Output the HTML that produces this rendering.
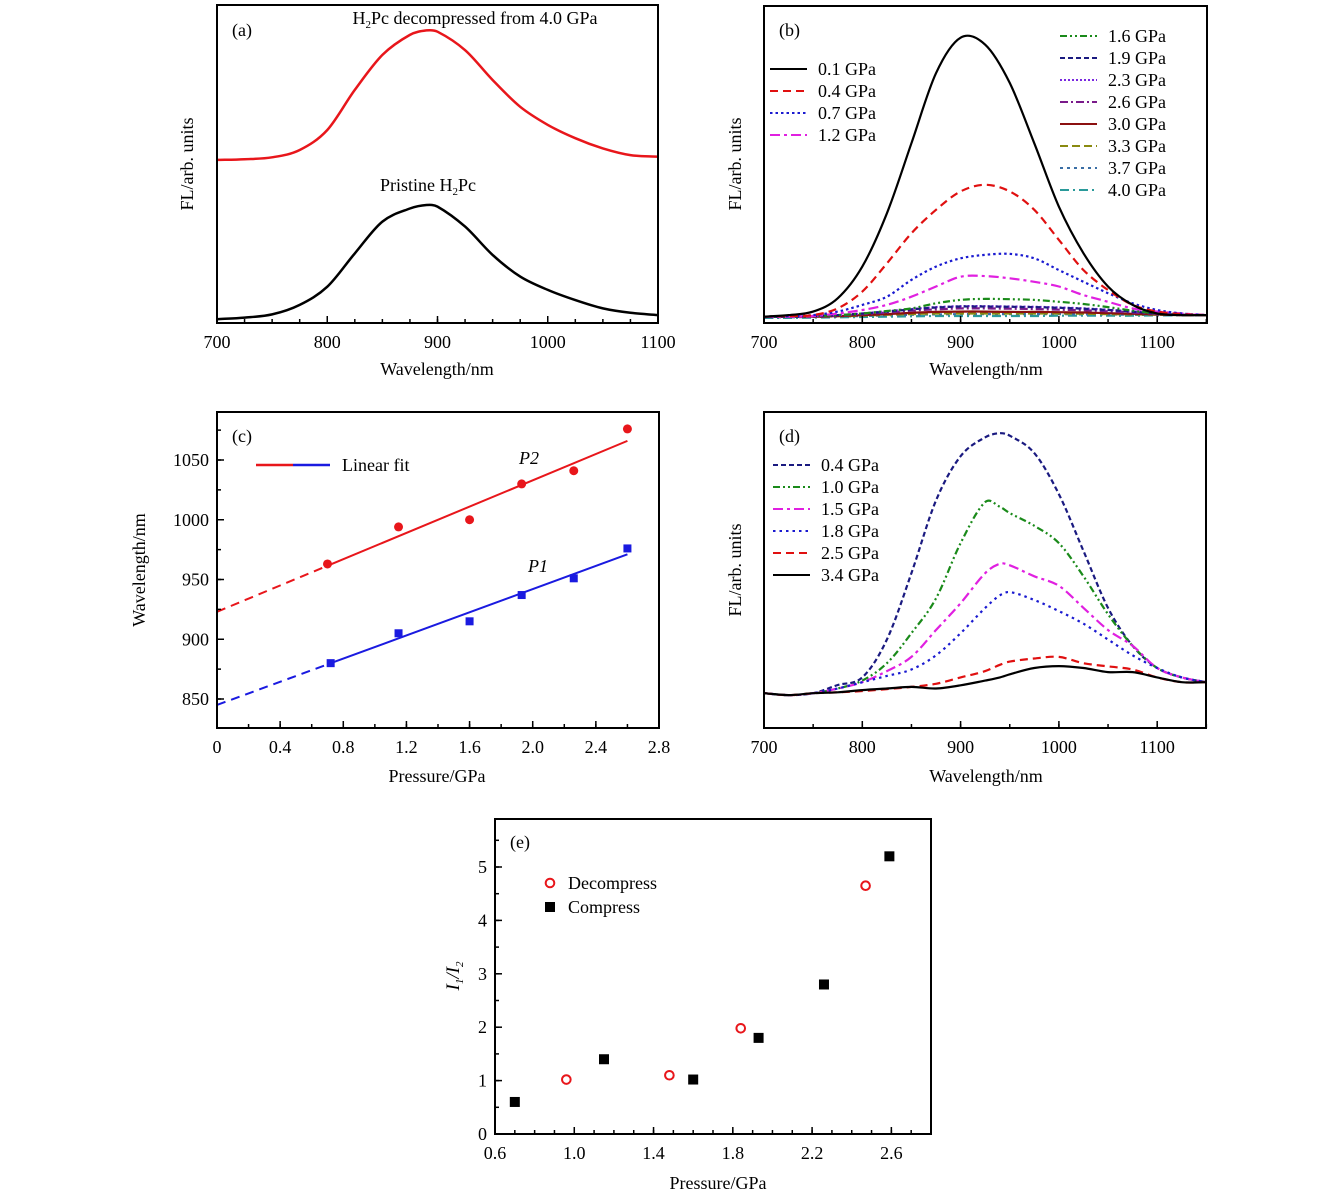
<!DOCTYPE html>
<html><head><meta charset="utf-8"><style>
body{margin:0;background:#fff;}
svg{display:block;font-family:"Liberation Serif",serif;}
</style></head><body>
<svg id="fig" width="1339" height="1197" viewBox="0 0 1339 1197"></svg>
<script>
// ---------- data ----------
const wlA=[700,725,750,775,800,825,850,875,890,900,925,950,975,1000,1025,1050,1075,1100];
const aDecomp=[51.3,51.5,52.1,54.4,60.7,73.3,84.3,90.6,92,91.6,85.8,76.4,68,62.3,58.1,54.9,52.8,52.3];
const aPristine=[1.2,1.7,2.7,5.7,11.4,21.9,31.9,36,37.1,36.6,30.3,21.4,14.6,10.4,7.2,4.6,3.2,2.5];

const wlB=[700,725,750,775,800,825,850,875,900,925,950,975,1000,1025,1050,1075,1100,1125,1150];
const b01=[2,2.5,3.6,7.8,17.8,34.6,56.7,78.8,90,87.8,75.7,56.7,36.7,22,11.5,5.7,3,2.5,2.5];
const b04=[2,2.2,2.5,4.6,9.9,18.8,28.3,35.7,41.5,43.6,41.5,35.7,26.2,16.7,10.4,5.7,3.6,2.8,2.5];
const b07=[2,2.2,2.5,3.6,5.7,8.3,13.6,17.8,20.4,21.5,21.8,20.4,16.7,13,9.4,6.2,4.1,3,2.5];
const b12=[2,2,2.2,3,4.1,5.7,8.3,11.5,14.6,14.8,14.1,13,11.5,8.8,6.7,4.6,3.6,3,2.5];
const b16=[2,2,2.2,2.5,3,3.8,4.6,6.2,7.3,7.6,7.5,7.3,6.7,6,5,3.9,3,2.6,2.5];
const b19=[2,2,2.2,2.5,3,3.6,4.3,4.9,5.2,5.2,5.1,5,4.8,4.5,4.1,3.6,3,2.6,2.5];
const b23=[2,2,2.2,2.5,3,3.7,4.4,5,5.3,5.3,5.2,5.1,4.9,4.6,4.2,3.6,3,2.6,2.5];
const b26=[2,2,2.1,2.4,2.8,3.3,3.9,4.3,4.6,4.6,4.5,4.4,4.2,4,3.7,3.3,2.9,2.6,2.5];
const b30=[2,2,2,2.2,2.5,2.8,3.2,3.5,3.6,3.6,3.5,3.5,3.4,3.3,3.1,2.9,2.7,2.5,2.5];
const b33=[2,2,2,2.1,2.3,2.6,2.8,3,3,3,3,3,3,2.9,2.8,2.7,2.6,2.5,2.5];
const b37=[1.8,1.8,1.9,2,2.2,2.4,2.6,2.7,2.8,2.8,2.8,2.8,2.8,2.7,2.7,2.6,2.5,2.5,2.5];
const b40=[1.6,1.6,1.7,1.8,1.9,2,2.1,2.2,2.2,2.2,2.2,2.2,2.3,2.3,2.3,2.3,2.4,2.4,2.4];

const wlD=[700,725,750,775,800,825,850,875,900,925,940,950,975,1000,1025,1050,1075,1100,1125,1150];
const d04=[11,10.4,11,13.6,16,28,49,72,86,92,93.3,92.5,87,74,56,38,26,19,16,14.5];
const d10=[11,10.4,11,12.5,15,20.5,30,41,58.5,71.5,70,68,64,58.5,48,36,26,19,16,14.5];
const d15=[11,10.4,11,12.5,14.5,18,22.5,31,39.5,49,52,51.5,48,45,38,31,26,19,16,14.5];
const d18=[11,10.4,11,12.5,14.5,16.5,18.5,23,30,38,42,43,40.5,37,33,28,23,19,16,14.5];
const d25=[11,10.4,11,11.3,11.7,12.3,13,14,16,18,20,21,22,22.5,20.5,19.5,18.5,16,14.5,14.5];
const d34=[11,10.4,11,11.3,12,12.5,13,12.5,13.5,15,16,17,19,19.6,19,17.7,17.7,16,14.5,14.5];

const cP2x=[0.7,1.15,1.6,1.93,2.26,2.6];
const cP2y=[963,994,1000,1030,1041,1076];
const cP1x=[0.72,1.15,1.6,1.93,2.26,2.6];
const cP1y=[880,905,915,937,951,976];
const cFit2=[923,55]; // intercept, slope
const cFit1=[845,48.5];

const eCompX=[0.7,1.15,1.6,1.93,2.26,2.59];
const eCompY=[0.6,1.4,1.02,1.8,2.8,5.2];
const eDecX=[0.96,1.48,1.84,2.47];
const eDecY=[1.02,1.1,1.98,4.65];

const ticksWA=[700,800,900,1000,1100];
const ticksWB=[700,800,900,1000,1100];
const ticksCX=[0,0.4,0.8,1.2,1.6,2.0,2.4,2.8];
const ticksCY=[850,900,950,1000,1050];
const ticksEX=[0.6,1.0,1.4,1.8,2.2,2.6];
const ticksEY=[0,1,2,3,4,5];

// ---------- helpers ----------
const NS="http://www.w3.org/2000/svg";
const FS=18;
const svg=document.getElementById('fig');
function mk(tag,attrs,parent){const e=document.createElementNS(NS,tag);for(const k in attrs)e.setAttribute(k,attrs[k]);(parent||svg).appendChild(e);return e;}
function txt(s,x,y,opt,parent){const t=mk('text',Object.assign({x:x,y:y,'font-size':FS,fill:'#000'},opt||{}),parent);t.textContent=s;return t;}
function lin(d0,d1,r0,r1){return v=>r0+(v-d0)*(r1-r0)/(d1-d0);}
function smooth(pts){const n=pts.length;const m=[];
 for(let i=0;i<n;i++){const a=pts[Math.max(0,i-1)],b=pts[Math.min(n-1,i+1)];m.push((b[1]-a[1])/(b[0]-a[0]));}
 let d='M'+pts[0][0].toFixed(1)+','+pts[0][1].toFixed(1);
 for(let i=0;i<n-1;i++){const p1=pts[i],p2=pts[i+1],h=(p2[0]-p1[0])/3;
  d+='C'+(p1[0]+h).toFixed(1)+','+(p1[1]+m[i]*h).toFixed(1)+' '+(p2[0]-h).toFixed(1)+','+(p2[1]-m[i+1]*h).toFixed(1)+' '+p2[0].toFixed(1)+','+p2[1].toFixed(1);}
 return d;}
function frame(g,x0,y0,x1,y1){mk('rect',{x:x0,y:y0,width:x1-x0,height:y1-y0,fill:'none',stroke:'#000','stroke-width':2},g);}
function xTicks(g,sx,y1,major,minorStep,lo,hi,fmt){
 for(let v=lo;v<=hi+1e-9;v+=minorStep){const x=sx(v);mk('line',{x1:x,x2:x,y1:y1,y2:y1-4,stroke:'#000','stroke-width':1.5},g);}
 major.forEach(v=>{const x=sx(v);mk('line',{x1:x,x2:x,y1:y1,y2:y1-7,stroke:'#000','stroke-width':1.5},g);
  const t=txt(fmt(v),x,y1+25,{'text-anchor':'middle'},g);});}
function yTicks(g,sy,x0,major,minorStep,lo,hi,fmt){
 for(let v=lo;v<=hi+1e-9;v+=minorStep){const y=sy(v);mk('line',{x1:x0,x2:x0+4,y1:y,y2:y,stroke:'#000','stroke-width':1.5},g);}
 major.forEach(v=>{const y=sy(v);mk('line',{x1:x0,x2:x0+7,y1:y,y2:y,stroke:'#000','stroke-width':1.5},g);
  const t=txt(fmt(v),x0-8,y+6,{'text-anchor':'end'},g);});}
function curve(g,wl,vals,sx,sy,color,dash,w,name){const p=mk('path',{d:smooth(wl.map((w2,i)=>[sx(w2),sy(vals[i])])),fill:'none',stroke:color,'stroke-width':w||2,'stroke-dasharray':dash||'none'},g);
 return p;}
function legendRow(g,x,y,color,dash,label,w){const l=mk('line',{x1:x,x2:x+37,y1:y,y2:y,stroke:color,'stroke-width':w||2,'stroke-dasharray':dash||'none'},g);
 
 const t=txt(label,x+48,y+6,{},g);}
function ylab(g,s,x,y){return txt(s,x,y,{'text-anchor':'middle',transform:'rotate(-90 '+x+' '+y+')'},g);}
function grp(name){const g=mk('g',{});return g;}

// ---------- panel a ----------
(function(){const g=grp('panel-a');const x0=217,x1=658,y0=5,y1=323;
 const sx=lin(700,1100,x0,x1),sy=lin(0,100,y1,y0);
 curve(g,wlA,aDecomp,sx,sy,'#e8161b','',2.5,'decompressed-curve');
 curve(g,wlA,aPristine,sx,sy,'#000','',2.5,'pristine-curve');
 frame(g,x0,y0,x1,y1);
 xTicks(g,sx,y1,ticksWA,25,700,1100,v=>v);
 const ta=txt('(a)',232,36,{},g);
 const t1=mk('text',{x:475,y:24,'font-size':FS,'text-anchor':'middle'},g);t1.innerHTML='H<tspan font-size="11" dy="4">2</tspan><tspan dy="-4">Pc decompressed from 4.0 GPa</tspan>';
 
 const t2=mk('text',{x:428,y:191,'font-size':FS,'text-anchor':'middle'},g);t2.innerHTML='Pristine H<tspan font-size="11" dy="4">2</tspan><tspan dy="-4">Pc</tspan>';
 
 const xl=txt('Wavelength/nm',437,375,{'text-anchor':'middle'},g);
 const yl=ylab(g,'FL/arb. units',193,164);
})();

// ---------- panel b ----------
(function(){const g=grp('panel-b');const x0=764,x1=1207,y0=6,y1=323;
 const sx=lin(700,1150,x0,x0+0.983*450),sy=lin(0,100,y1,y0);
 const S=[[b40,'#2a9a9a','9,4,2,4','4.0 GPa'],[b37,'#3a6ea5','3,4','3.7 GPa'],[b33,'#8a8a10','8,4','3.3 GPa'],[b30,'#8b1010','','3.0 GPa'],[b26,'#7a1a8a','8,3,2,3','2.6 GPa'],[b23,'#7a28e0','2,2','2.3 GPa'],[b19,'#1a1a80','5,3','1.9 GPa'],[b16,'#1a8a1a','7,3,2,3,2,3','1.6 GPa'],[b12,'#e020e0','10,4,3,4','1.2 GPa'],[b07,'#1a1ad0','2.5,3','0.7 GPa'],[b04,'#e01010','8,5','0.4 GPa'],[b01,'#000','','0.1 GPa']];
 S.forEach(s=>curve(g,wlB,s[0],sx,sy,s[1],s[2],2.2,'curve-'+s[3].replace(' GPa','').replace('.','-')+'gpa'));
 frame(g,x0,y0,x1,y1);
 xTicks(g,sx,y1,ticksWB,50,700,1150,v=>v);
 const tb=txt('(b)',779,36,{},g);
 const L1=[S[11],S[10],S[9],S[8]];L1.forEach((s,i)=>legendRow(g,770,69+i*22,s[1],s[2],s[3]));
 const L2=[S[7],S[6],S[5],S[4],S[3],S[2],S[1],S[0]];L2.forEach((s,i)=>legendRow(g,1060,36+i*22,s[1],s[2],s[3]));
 const xl=txt('Wavelength/nm',986,375,{'text-anchor':'middle'},g);
 const yl=ylab(g,'FL/arb. units',741,164);
})();

// ---------- panel c ----------
(function(){const g=grp('panel-c');const x0=217,x1=659,y0=412,y1=728;
 const sx=lin(0,2.8,x0,x1),sy=lin(850,1050,699,460);
 function fit(f,c,name){const a=f[0],b=f[1];
  const d=mk('line',{x1:sx(0),y1:sy(a),x2:sx(0.72),y2:sy(a+b*0.72),stroke:c,'stroke-width':2,'stroke-dasharray':'9,6'},g);
  const s=mk('line',{x1:sx(0.72),y1:sy(a+b*0.72),x2:sx(2.6),y2:sy(a+b*2.6),stroke:c,'stroke-width':2},g);}
 fit(cFit2,'#e8161b','p2');fit(cFit1,'#1a1ae0','p1');
 cP2x.forEach((x,i)=>{const c=mk('circle',{cx:sx(x),cy:sy(cP2y[i]),r:4.5,fill:'#e8161b'},g);});
 cP1x.forEach((x,i)=>{const r=mk('rect',{x:sx(x)-4,y:sy(cP1y[i])-4,width:8,height:8,fill:'#1a1ae0'},g);});
 frame(g,x0,y0,x1,y1);
 xTicks(g,sx,y1,ticksCX,0.2,0,2.8,v=>v===0?'0':v.toFixed(1));
 yTicks(g,sy,x0,ticksCY,25,850,1075,v=>v);
 const tc=txt('(c)',232,442,{},g);
 mk('line',{x1:256,x2:293,y1:465,y2:465,stroke:'#e8161b','stroke-width':2.5},g);
 mk('line',{x1:293,x2:330,y1:465,y2:465,stroke:'#1a1ae0','stroke-width':2.5},g);
 const lf=txt('Linear fit',342,471,{},g);
 const p2=txt('P2',519,464,{'font-style':'italic'},g);
 const p1=txt('P1',528,572,{'font-style':'italic'},g);
 const xl=txt('Pressure/GPa',437,782,{'text-anchor':'middle'},g);
 const yl=ylab(g,'Wavelength/nm',145,570);
})();

// ---------- panel d ----------
(function(){const g=grp('panel-d');const x0=764,x1=1206,y0=412,y1=728;
 const sx=lin(700,1150,x0,x0+0.983*450),sy=lin(0,100,y1,y0);
 const S=[[d04,'#1a1a80','5,3','0.4 GPa'],[d10,'#1a8a1a','7,3,2,3,2,3','1.0 GPa'],[d15,'#e020e0','10,4,3,4','1.5 GPa'],[d18,'#1a1ad0','2.5,4','1.8 GPa'],[d25,'#e01010','8,5','2.5 GPa'],[d34,'#000','','3.4 GPa']];
 S.forEach(s=>curve(g,wlD,s[0],sx,sy,s[1],s[2],2.2,'curve-'+s[3].replace(' GPa','').replace('.','-')+'gpa'));
 frame(g,x0,y0,x1,y1);
 xTicks(g,sx,y1,ticksWB,50,700,1150,v=>v);
 const td=txt('(d)',779,442,{},g);
 S.forEach((s,i)=>legendRow(g,773,465+i*22,s[1],s[2],s[3]));
 const xl=txt('Wavelength/nm',986,782,{'text-anchor':'middle'},g);
 const yl=ylab(g,'FL/arb. units',741,570);
})();

// ---------- panel e ----------
(function(){const g=grp('panel-e');const x0=495,x1=931,y0=819,y1=1134;
 const sx=lin(0.6,2.8,x0,x1),sy=lin(0,5,y1,867);
 eCompX.forEach((x,i)=>{const r=mk('rect',{x:sx(x)-5,y:sy(eCompY[i])-5,width:10,height:10,fill:'#000'},g);});
 eDecX.forEach((x,i)=>{const c=mk('circle',{cx:sx(x),cy:sy(eDecY[i]),r:4.3,fill:'none',stroke:'#e8161b','stroke-width':2},g);});
 frame(g,x0,y0,x1,y1);
 xTicks(g,sx,y1,ticksEX,0.1,0.6,2.8,v=>v.toFixed(1));
 yTicks(g,sy,x0,ticksEY,0.5,0,5.5,v=>v);
 const te=txt('(e)',510,848,{},g);
 mk('circle',{cx:550,cy:883,r:4.3,fill:'none',stroke:'#e8161b','stroke-width':2},g);
 mk('rect',{x:545,y:902,width:10,height:10,fill:'#000'},g);
 const l1=txt('Decompress',568,889,{},g);
 const l2=txt('Compress',568,913,{},g);
 const xl=txt('Pressure/GPa',718,1189,{'text-anchor':'middle'},g);
 const yl=mk('text',{x:459,y:976,'font-size':19,'text-anchor':'middle','font-style':'italic',transform:'rotate(-90 459 976)'},g);
 yl.innerHTML='I<tspan font-size="11" dy="4">1</tspan><tspan dy="-4">/I</tspan><tspan font-size="11" dy="4">2</tspan>';
 
})();
</script>
</body></html>
